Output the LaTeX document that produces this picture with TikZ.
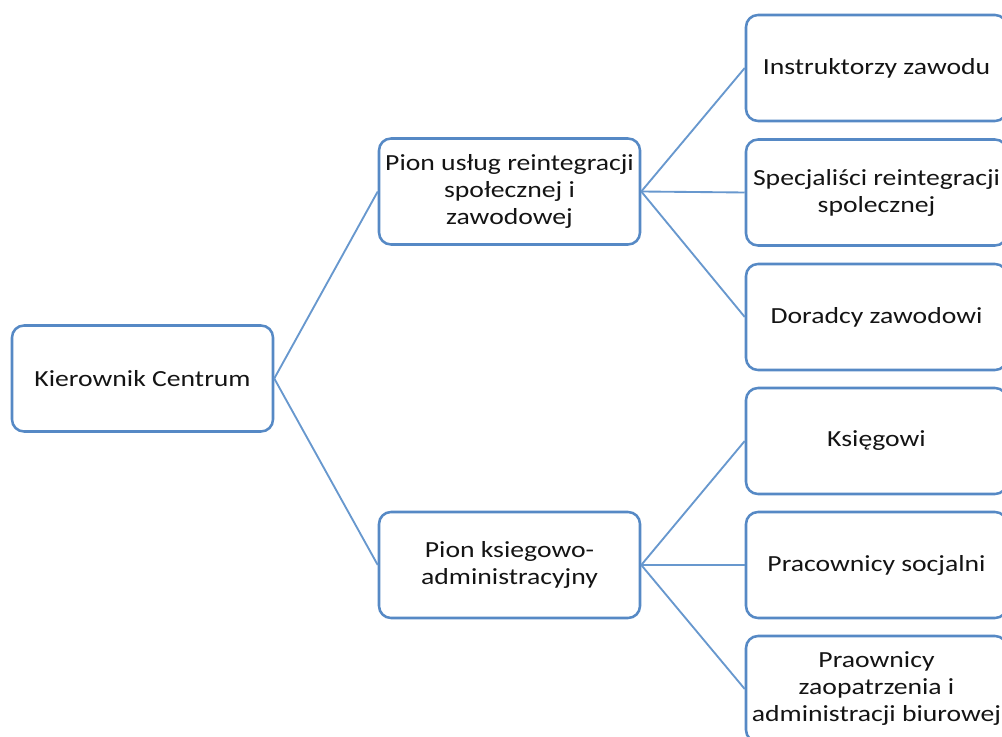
\documentclass[tikz,border=0pt]{standalone}
\usepackage{fontspec}
\setmainfont{Carlito}[FakeStretch=1.2]
\definecolor{boxblue}{RGB}{86,137,197}
\definecolor{linkblue}{RGB}{104,152,206}
\definecolor{txt}{RGB}{20,20,20}
\begin{document}
\begin{tikzpicture}[x=0.75pt,y=-0.75pt,
  unit/.style={draw=boxblue, line width=1.9pt, rounded corners=9pt, fill=white,
    minimum width=195.75pt, minimum height=79.5pt, align=center, text=txt,
    font=\fontsize{17.3}{20.25}\selectfont, inner sep=0pt},
  link/.style={draw=linkblue, line width=1.4pt}]
\useasboundingbox (0,0) rectangle (1002,737);
\clip (0,0) rectangle (1002,737);
% root
\node[unit] (k) at (142.5,378.5) {Kierownik Centrum};
% level 2
\node[unit] (p1) at (509.5,191.5) {Pion usług reintegracji\\społecznej i\\zawodowej};
\node[unit] (p2) at (509.5,565) {Pion ksiegowo-\\administracyjny};
% level 3
\node[unit] (c1) at (876.5,68) {Instruktorzy zawodu};
\node[unit] (c2) at (876.5,192.5) {Specjaliści reintegracji\\spolecznej};
\node[unit] (c3) at (876.5,317) {Doradcy zawodowi};
\node[unit] (c4) at (876.5,441) {Księgowi};
\node[unit] (c5) at (876.5,565) {Pracownicy socjalni};
\node[unit] (c6) at (876.5,689) {Praownicy\\zaopatrzenia i\\administracji biurowej};
% connectors
\draw[link] (k.east) -- (p1.west);
\draw[link] (k.east) -- (p2.west);
\foreach \c in {c1,c2,c3} \draw[link] (p1.east) -- (\c.west);
\foreach \c in {c4,c5,c6} \draw[link] (p2.east) -- (\c.west);
\end{tikzpicture}
\end{document}
